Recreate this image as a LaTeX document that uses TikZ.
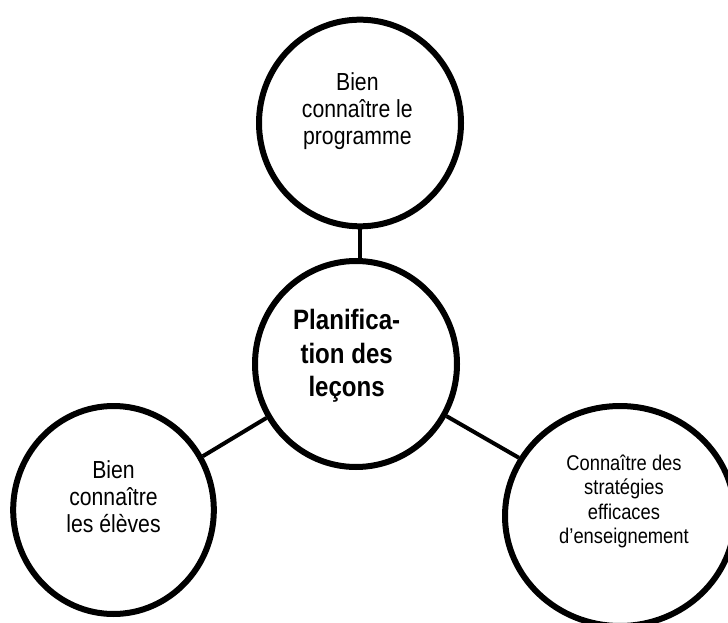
\documentclass[tikz,border=0pt]{standalone}
\usepackage{fontspec}
\setmainfont[FakeStretch = 0.86]{Liberation Sans}
\usetikzlibrary{shapes.geometric}
\tikzset{
  bubble/.style = {draw, ellipse, line width = 4.5pt, inner sep = 0pt},
  link/.style = {line width = 3pt},
  small/.style = {font = \fontsize{18.5}{20}\selectfont, align = center},
  tiny/.style = {font = \fontsize{16}{18.3}\selectfont, align = center}
}
\begin{document}
\begin{tikzpicture}[x = 0.75pt, y = 0.75pt]
      \useasboundingbox (0, 0) rectangle (728, 622);
      \node (mid) at (356, 258) [bubble, minimum width = 151.5pt, minimum height = 154.5pt,
        label = {[align = center, font = \fontsize{21}{25}\selectfont\bfseries, xshift = -7pt, yshift = 6pt]center:Planifica-\\tion des\\leçons}] {};
      \node (top) at (360, 499) [bubble, minimum width = 151.5pt, minimum height = 155pt,
        label = {[small, xshift = -2pt, yshift = 9pt]center:Bien\\connaître le\\programme}] {};
      \node (left) at (113.5, 112) [bubble, minimum width = 150.5pt, minimum height = 156pt,
        label = {[small, yshift = 10pt]center:Bien\\connaître\\les élèves}] {};
      \node (right) at (620, 106) [bubble, minimum width = 172.5pt, minimum height = 165pt,
        label = {[tiny, xshift = 3pt, yshift = 11pt]center:Connaître des\\stratégies\\efficaces\\d’enseignement}] {};
      \draw [link] (top.south) -- (top.south |- mid.north);
      \draw [link] (mid) -- (left);
      \draw [link] (mid) -- (right);
    \end{tikzpicture}
\end{document}
